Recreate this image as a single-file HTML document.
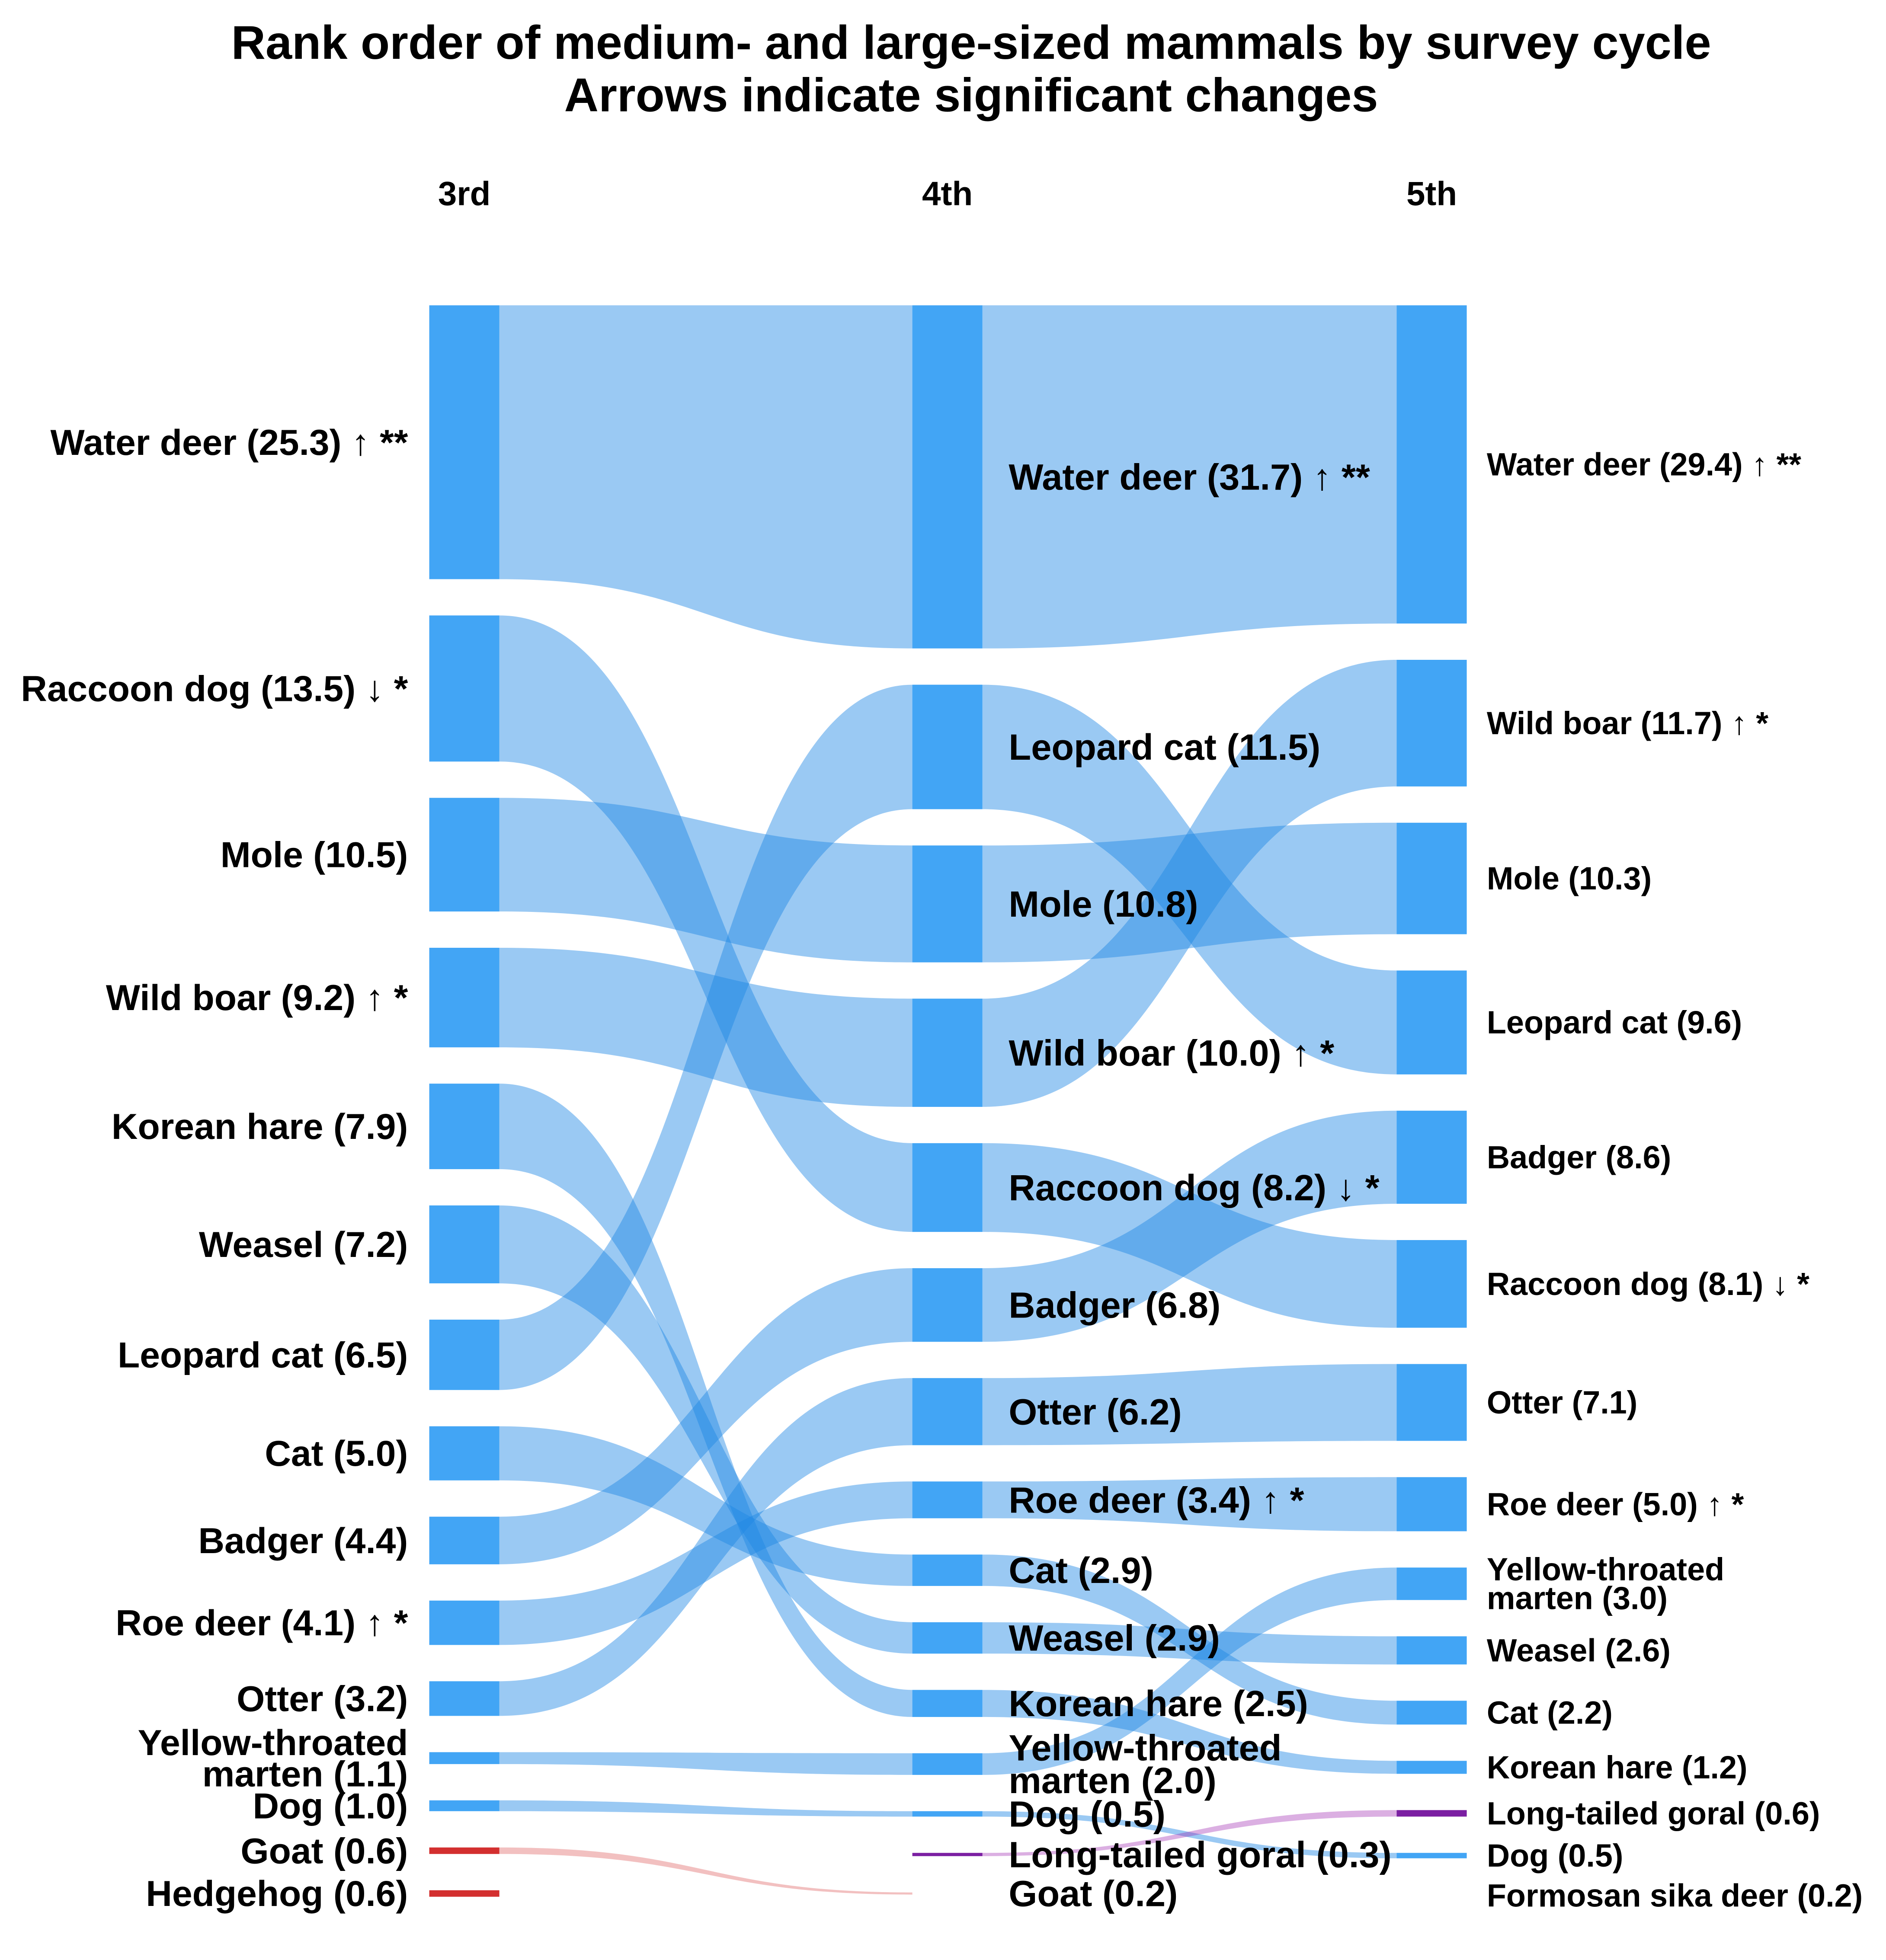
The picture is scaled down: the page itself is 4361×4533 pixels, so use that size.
<!DOCTYPE html>
<html><head><meta charset="utf-8"><style>
html,body{margin:0;padding:0;background:#fff}
svg{display:block}
text{font-family:"Liberation Sans","DejaVu Sans",sans-serif;font-weight:bold;fill:#000}
</style></head><body>
<svg id="chart" width="4361" height="4533" viewBox="0 0 1507 1566.4" xmlns="http://www.w3.org/2000/svg">
<rect width="1507" height="1567" fill="#fff"/>
<text x="776" y="47" text-anchor="middle" font-size="38">Rank order of medium- and large-sized mammals by survey cycle</text>
<text x="776" y="89" text-anchor="middle" font-size="38">Arrows indicate significant changes</text>
<g id="links"></g><g id="bars"></g><g id="labels"></g>
</svg>
<script>
const cycles = ["3rd","4th","5th"];
const names3 = ["Water deer","Raccoon dog","Mole","Wild boar","Korean hare","Weasel","Leopard cat","Cat","Badger","Roe deer","Otter","Yellow-throated marten","Dog","Goat","Hedgehog"];
const values3 = [25.3,13.5,10.5,9.2,7.9,7.2,6.5,5.0,4.4,4.1,3.2,1.1,1.0,0.6,0.6];
const names4 = ["Water deer","Leopard cat","Mole","Wild boar","Raccoon dog","Badger","Otter","Roe deer","Cat","Weasel","Korean hare","Yellow-throated marten","Dog","Long-tailed goral","Goat"];
const values4 = [31.7,11.5,10.8,10.0,8.2,6.8,6.2,3.4,2.9,2.9,2.5,2.0,0.5,0.3,0.2];
const names5 = ["Water deer","Wild boar","Mole","Leopard cat","Badger","Raccoon dog","Otter","Roe deer","Yellow-throated marten","Weasel","Cat","Korean hare","Long-tailed goral","Dog","Formosan sika deer"];
const values5 = [29.4,11.7,10.3,9.6,8.6,8.1,7.1,5.0,3.0,2.6,2.2,1.2,0.6,0.5,0.2];
const sigSpecies = ["Water deer","Raccoon dog","Wild boar","Roe deer"];
const sigMarks = ["↑ **","↓ *","↑ *","↑ *"];

const NS="http://www.w3.org/2000/svg";
const colX=[343,729,1116], barW=56, top0=244, K=8.65, GAP=29;
const fontSz=[29,29.3,25.5], lineSp=[25,26,23];
function yScale(v){return v*K;}
function colorOf(n){ if(n==="Goat"||n==="Hedgehog") return "#d32f2f"; if(n==="Long-tailed goral") return "#7b1fa2"; return "#42a5f5";}
function linkColor(n){ if(n==="Goat"||n==="Hedgehog") return ["#d32f2f",0.3]; if(n==="Long-tailed goral") return ["#9c27b0",0.37]; return ["#1e88e5",0.45];}
function layout(names,vals){ let y=top0; const m={}; names.forEach((n,i)=>{const h=yScale(vals[i]); m[n]={y:y,h:h,v:vals[i]}; y+=h+GAP;}); return m;}
const cols=[layout(names3,values3),layout(names4,values4),layout(names5,values5)];
const colNames=[names3,names4,names5];
const gL=document.getElementById('links'), gB=document.getElementById('bars'), gT=document.getElementById('labels');
const svg=document.getElementById('chart');
cycles.forEach((c,i)=>{const t=document.createElementNS(NS,'text');
t.setAttribute('x',colX[i]+barW/2);t.setAttribute('y',164);t.setAttribute('text-anchor','middle');t.setAttribute('font-size',27);t.textContent=c;


svg.appendChild(t);});
for(let i=0;i<2;i++){
  const a=cols[i], b=cols[i+1];
  Object.keys(a).forEach(n=>{ if(!b[n]) return;
    const x0=colX[i]+barW, x1=colX[i+1], xm=(x0+x1)/2;
    const s=a[n], t=b[n];
    const d=`M${x0},${s.y} C${xm},${s.y} ${xm},${t.y} ${x1},${t.y} L${x1},${t.y+t.h} C${xm},${t.y+t.h} ${xm},${s.y+s.h} ${x0},${s.y+s.h} Z`;
    const p=document.createElementNS(NS,'path'); const lc=linkColor(n);
    p.setAttribute('d',d);p.setAttribute('fill',lc[0]);p.setAttribute('fill-opacity',lc[1]);
    
    
    gL.appendChild(p);
  });
}
cols.forEach((m,i)=>{
  colNames[i].forEach(n=>{
    const s=m[n];
    const r=document.createElementNS(NS,'rect');
    r.setAttribute('x',colX[i]);r.setAttribute('y',s.y);r.setAttribute('width',barW);r.setAttribute('height',s.h);r.setAttribute('fill',colorOf(n));
    if(s.v<0.25) r.setAttribute('fill-opacity',0);
    
    
    gB.appendChild(r);
    const si=sigSpecies.indexOf(n);
    const valTxt='('+s.v.toFixed(1)+')'+(si>=0?' '+sigMarks[si]:'');
    const lines = n==="Yellow-throated marten" ? ["Yellow-throated","marten "+valTxt] : [n+' '+valTxt];
    const cy=s.y+s.h/2;
    const t=document.createElementNS(NS,'text');
    const right=(i===0);
    const x= right? 326 : colX[i]+barW+(i===1?21:16);
    t.setAttribute('x',x);t.setAttribute('font-size',fontSz[i]);
    t.setAttribute('text-anchor',right?'end':'start');
    
    
    const y0=cy-(lines.length-1)*lineSp[i]/2;
    lines.forEach((ln,k)=>{const ts=document.createElementNS(NS,'tspan');ts.setAttribute('x',x);ts.setAttribute('y',y0+k*lineSp[i]);ts.setAttribute('dominant-baseline','central');ts.textContent=ln;t.appendChild(ts);});
    gT.appendChild(t);
  });
});
</script>
</body></html>
